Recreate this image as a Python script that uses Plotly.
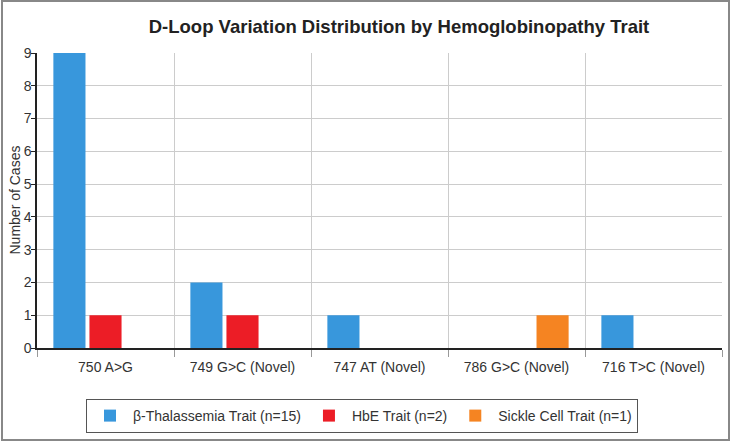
import plotly.graph_objects as go

categories = ["750 A>G", "749 G>C (Novel)", "747 AT (Novel)", "786 G>C (Novel)", "716 T>C (Novel)"]
beta_thal = [9, 2, 1, 0, 1]
hbe = [1, 1, 0, 0, 0]
sickle = [0, 0, 0, 1, 0]
series_names = ["β-Thalassemia Trait (n=15)", "HbE Trait (n=2)", "Sickle Cell Trait (n=1)"]
colors = ["#3897dc", "#ec1d26", "#f58422"]

fig = go.Figure()
for name, vals, col in zip(series_names, [beta_thal, hbe, sickle], colors):
    fig.add_trace(go.Bar(x=categories, y=vals, name=name, marker_color=col,
                         marker_line_width=0))

L, R, T, B = 37, 11, 53, 95
W, H = 733, 443
pw = W - L - R
ph = H - T - B

fig.update_layout(
    width=W, height=H,
    margin=dict(l=L, r=R, t=T, b=B, autoexpand=False),
    paper_bgcolor="white", plot_bgcolor="white",
    font=dict(family="Liberation Sans, Arial, sans-serif", size=14, color="#333333"),
    barmode="group", bargap=0.21, bargroupgap=0.11,
    title=dict(text="<b>D-Loop Variation Distribution by Hemoglobinopathy Trait</b>",
               x=399 / W, xanchor="center", xref="container",
               y=1 - 27 / H, yanchor="middle", yref="container",
               font=dict(size=18.5, color="#222222")),
    legend=dict(orientation="h", x=(86 - L) / pw, xanchor="left",
                y=(H - B - 399) / ph, yanchor="top",
                bordercolor="#555555", borderwidth=1,
                font=dict(size=14, color="#333333"),
                itemwidth=36,
                traceorder="normal"),
    showlegend=True,
)

fig.update_xaxes(
    automargin=False,
    showline=True, linecolor="#222222", linewidth=1.5,
    showgrid=True, gridcolor="#cccccc", gridwidth=1,
    tickson="boundaries", ticks="outside", ticklen=7, tickcolor="#999999",
    tickfont=dict(size=14, color="#333333"),
    ticklabelstandoff=5,
)
fig.update_yaxes(
    automargin=False,
    range=[0, 9], dtick=1,
    showline=True, linecolor="#222222", linewidth=1.5,
    showgrid=True, gridcolor="#cccccc", gridwidth=1,
    ticks="outside", ticklen=4, tickcolor="#222222",
    tickfont=dict(size=14, color="#333333"),
    ticklabelstandoff=-3,
    zeroline=False,
)

# y-axis title as a rotated text label
fig.add_annotation(text="Number of Cases", xref="paper", yref="paper",
                   x=(14 - L) / pw, y=0.5, xanchor="center", yanchor="middle",
                   textangle=-90, showarrow=False,
                   font=dict(size=14, color="#333333"))

# outer frame around the whole chart
fig.add_shape(type="rect", xref="paper", yref="paper",
              x0=(2 - L) / pw, x1=(729 - L) / pw,
              y0=(H - B - 440) / ph, y1=(H - B - 1) / ph,
              line=dict(color="#888888", width=2), fillcolor="rgba(0,0,0,0)", layer="below")

fig.write_html("out.html")
